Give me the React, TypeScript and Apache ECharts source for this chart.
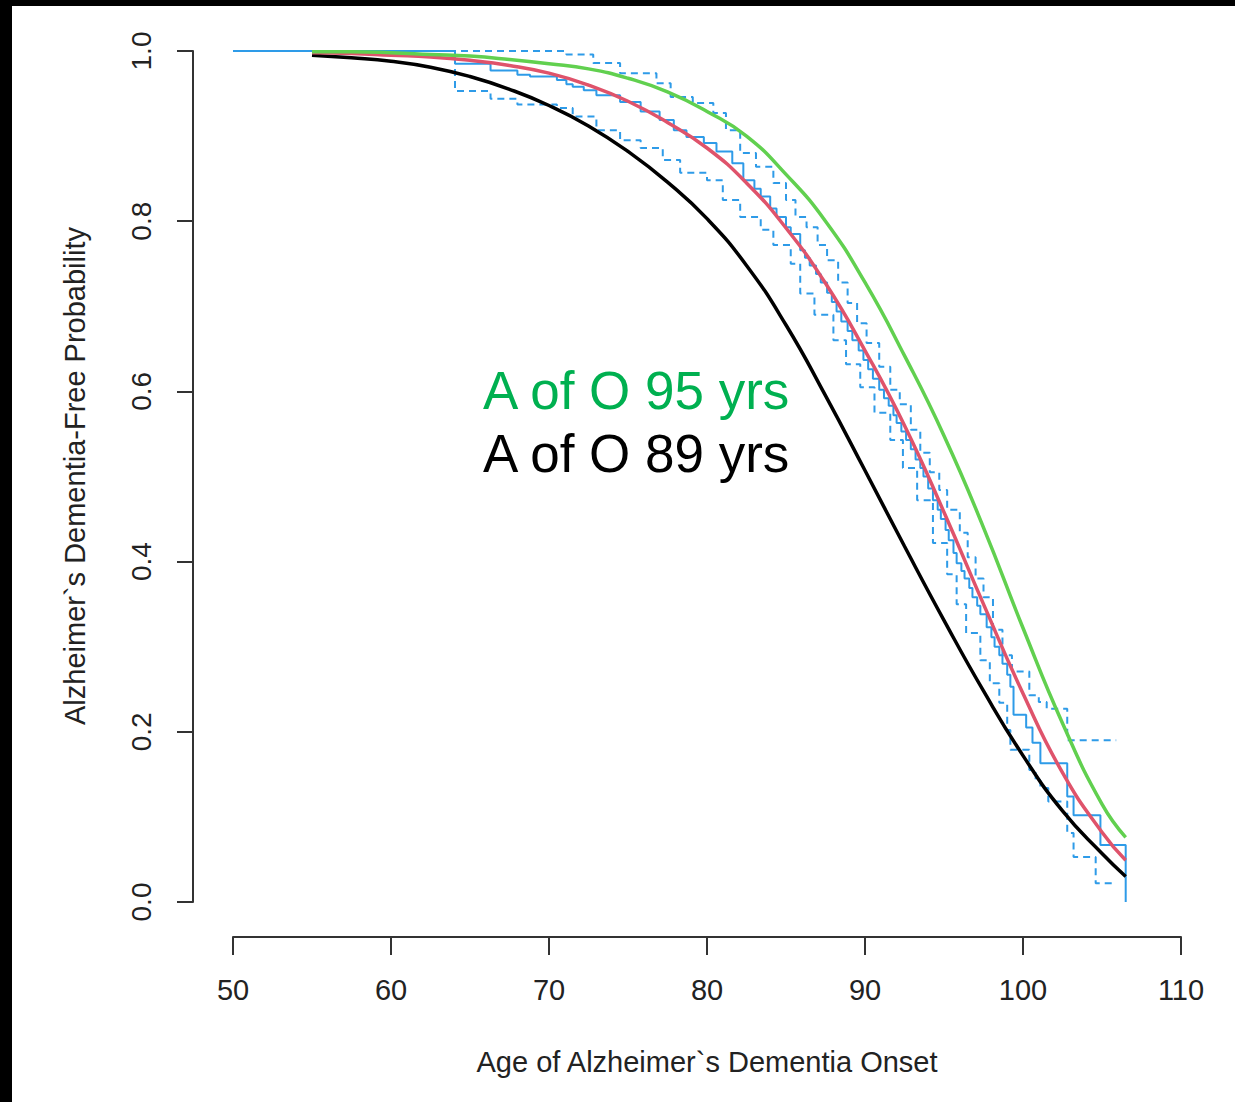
import React, { useEffect, useRef } from "react";
import * as echarts from "echarts";

// Kaplan-Meier estimate (step function): [age, survival]
const kmAges = [50, 64.05, 66.3, 68.0, 68.8, 70.5, 71.1, 71.5, 72.2, 73.0, 74.5, 75.8, 77.0, 77.9, 78.7, 79.8, 80.6, 81.6, 82.3, 83.0, 83.4, 84.0, 84.4, 85.0, 85.3, 85.9, 86.2, 86.5, 86.9, 87.2, 87.6, 87.9, 88.2, 88.5, 88.9, 89.2, 89.6, 89.9, 90.2, 90.5, 90.9, 91.2, 91.5, 91.8, 92.0, 92.3, 92.6, 92.9, 93.2, 93.5, 93.7, 94.0, 94.3, 94.6, 94.8, 95.1, 95.3, 95.6, 95.8, 96.1, 96.3, 96.6, 96.8, 97.1, 97.3, 97.7, 98.0, 98.2, 98.5, 98.7, 99.0, 99.2, 99.4, 100.2, 100.6, 101.1, 102.8, 103.2, 104.9, 106.5];
const kmVals = [1.0, 0.985, 0.977, 0.972, 0.97, 0.966, 0.961, 0.958, 0.954, 0.948, 0.94, 0.929, 0.919, 0.907, 0.899, 0.892, 0.882, 0.868, 0.848, 0.838, 0.829, 0.815, 0.805, 0.793, 0.785, 0.766, 0.757, 0.748, 0.738, 0.728, 0.716, 0.705, 0.694, 0.682, 0.671, 0.66, 0.648, 0.637, 0.626, 0.615, 0.602, 0.592, 0.583, 0.572, 0.563, 0.553, 0.543, 0.532, 0.52, 0.51, 0.5, 0.486, 0.472, 0.461, 0.45, 0.437, 0.425, 0.41, 0.398, 0.389, 0.38, 0.369, 0.358, 0.348, 0.338, 0.323, 0.311, 0.3, 0.29, 0.28, 0.267, 0.253, 0.22, 0.205, 0.187, 0.163, 0.124, 0.102, 0.067, 0.0];

// Upper confidence band (step)
const upAges = [50, 71.1, 72.8, 74.5, 76.8, 77.7, 79.1, 80.4, 81.2, 82.1, 83.1, 84.2, 85.0, 85.6, 86.3, 87.0, 87.6, 88.3, 88.9, 89.5, 90.1, 90.9, 91.6, 92.2, 92.9, 93.5, 94.1, 94.7, 95.2, 96.0, 96.5, 97.0, 97.5, 98.1, 98.7, 99.3, 100.4, 101.0, 101.5, 102.8, 105.9];
const upVals = [1.0, 0.996, 0.986, 0.974, 0.962, 0.946, 0.939, 0.927, 0.907, 0.88, 0.864, 0.845, 0.825, 0.805, 0.793, 0.772, 0.754, 0.728, 0.704, 0.68, 0.657, 0.629, 0.602, 0.585, 0.555, 0.528, 0.505, 0.484, 0.461, 0.434, 0.405, 0.38, 0.358, 0.32, 0.29, 0.271, 0.243, 0.235, 0.227, 0.19, 0.19];

// Lower confidence band (step)
const loAges = [50, 64.05, 66.3, 68.0, 70.5, 71.5, 73.0, 74.5, 75.8, 77.2, 78.3, 80.0, 81.0, 82.1, 83.4, 84.2, 85.3, 85.9, 86.8, 88.0, 88.8, 89.7, 90.6, 91.6, 92.4, 93.3, 94.3, 95.2, 95.8, 96.4, 97.3, 97.9, 98.5, 99.0, 99.2, 100.4, 100.8, 101.1, 101.6, 102.8, 103.2, 104.6, 105.9];
const loVals = [1.0, 0.953, 0.944, 0.937, 0.933, 0.923, 0.907, 0.895, 0.886, 0.872, 0.857, 0.848, 0.825, 0.805, 0.79, 0.772, 0.75, 0.715, 0.69, 0.66, 0.632, 0.605, 0.575, 0.543, 0.51, 0.472, 0.422, 0.385, 0.35, 0.316, 0.284, 0.257, 0.234, 0.202, 0.179, 0.155, 0.143, 0.134, 0.118, 0.081, 0.053, 0.022, 0.022];

// Smooth curves read at ages every 2.5 years
const curveAges = [55, 57.5, 60, 62.5, 65, 67.5, 70, 72.5, 75, 77.5, 80, 82.5, 85, 87.5, 90, 92.5, 95, 97.5, 100, 102.5, 105, 106.5];
// Fitted curve (red)
const redVals = [0.998, 0.997, 0.995, 0.993, 0.989, 0.983, 0.974, 0.96, 0.941, 0.916, 0.886, 0.845, 0.792, 0.727, 0.648, 0.56, 0.458, 0.35, 0.245, 0.152, 0.082, 0.049];
// A of O 95 yrs (green)
const greenVals = [0.999, 0.999, 0.998, 0.996, 0.994, 0.99, 0.985, 0.979, 0.968, 0.952, 0.929, 0.9, 0.855, 0.8, 0.728, 0.642, 0.548, 0.44, 0.322, 0.21, 0.115, 0.076];
// A of O 89 yrs (black)
const blackVals = [0.995, 0.992, 0.988, 0.981, 0.97, 0.955, 0.936, 0.912, 0.882, 0.846, 0.803, 0.748, 0.678, 0.595, 0.507, 0.418, 0.331, 0.248, 0.172, 0.107, 0.057, 0.03];

const xTicks = [50, 60, 70, 80, 90, 100, 110];
const yTicks = [0, 0.2, 0.4, 0.6, 0.8, 1.0];

const FONT = "'Liberation Sans', Arial, Helvetica, sans-serif";

const zip = (a: number[], b: number[]) => a.map((v, i) => [v, b[i]]);

export default function App() {
  const ref = useRef<HTMLDivElement>(null);
  useEffect(() => {
    if (!ref.current) return;
    const chart = echarts.init(ref.current, undefined, { renderer: "svg" });
    const blue = "#2e9be8";
    const curve = (vals: number[], color: string, z: number) => ({
      type: "line",
      data: zip(curveAges, vals),
      smooth: 0.5,
      showSymbol: false,
      lineStyle: { color, width: 3.5 },
      z,
    });
    chart.setOption({
      animation: false,
      backgroundColor: "#ffffff",
      grid: { left: 233, top: 51, width: 948, height: 851, containLabel: false },
      xAxis: {
        type: "value",
        min: xTicks[0],
        max: xTicks[xTicks.length - 1],
        interval: 10,
        offset: 35,
        splitLine: { show: false },
        axisLine: { show: true, onZero: false, lineStyle: { color: "#333", width: 2 } },
        axisTick: { show: true, length: 18, lineStyle: { color: "#333", width: 2 } },
        axisLabel: { fontSize: 29, color: "#222", fontFamily: FONT, margin: 38 },
      },
      yAxis: {
        type: "value",
        min: yTicks[0],
        max: yTicks[yTicks.length - 1],
        interval: 0.2,
        offset: 40,
        splitLine: { show: false },
        axisLine: { show: true, onZero: false, lineStyle: { color: "#333", width: 2 } },
        axisTick: { show: true, length: 16, lineStyle: { color: "#333", width: 2 } },
        axisLabel: {
          fontSize: 28,
          color: "#222",
          fontFamily: FONT,
          rotate: 90,
          margin: 38,
          formatter: (v: number) => v.toFixed(1),
        },
      },
      series: [
        {
          type: "line",
          data: zip(upAges, upVals),
          step: "end",
          showSymbol: false,
          lineStyle: { color: blue, width: 2, type: [7, 5] },
          z: 1,
        },
        {
          type: "line",
          data: zip(loAges, loVals),
          step: "end",
          showSymbol: false,
          lineStyle: { color: blue, width: 2, type: [7, 5] },
          z: 1,
        },
        {
          type: "line",
          data: zip(kmAges, kmVals),
          step: "end",
          showSymbol: false,
          lineStyle: { color: blue, width: 2 },
          z: 2,
        },
        curve(blackVals, "#000000", 3),
        curve(redVals, "#df536b", 4),
        curve(greenVals, "#61d04f", 5),
      ],
      graphic: [
        { type: "rect", left: 0, top: 0, shape: { width: 1235, height: 6 }, style: { fill: "#000" }, z: 100 },
        { type: "rect", left: 0, top: 0, shape: { width: 12, height: 1102 }, style: { fill: "#000" }, z: 100 },
        {
          type: "text",
          x: 75,
          y: 476,
          rotation: Math.PI / 2,
          style: {
            text: "Alzheimer`s Dementia-Free Probability",
            fontSize: 29,
            fontFamily: FONT,
            fill: "#222",
            align: "center",
            verticalAlign: "middle",
          },
        },
        {
          type: "text",
          x: 707,
          y: 1062,
          style: {
            text: "Age of Alzheimer`s Dementia Onset",
            fontSize: 29,
            fontFamily: FONT,
            fill: "#222",
            align: "center",
            verticalAlign: "middle",
          },
        },
        {
          type: "text",
          x: 483,
          y: 390,
          style: {
            text: "A of O 95 yrs",
            fontSize: 53,
            fontFamily: FONT,
            fill: "#00b050",
            align: "left",
            verticalAlign: "middle",
          },
        },
        {
          type: "text",
          x: 483,
          y: 453,
          style: {
            text: "A of O 89 yrs",
            fontSize: 53,
            fontFamily: FONT,
            fill: "#000000",
            align: "left",
            verticalAlign: "middle",
          },
        },
      ],
    });
    return () => chart.dispose();
  }, []);
  return (
    <div
      ref={ref}
      style={{ position: "absolute", left: 0, top: 0, width: 1235, height: 1102, background: "#fff" }}
    />
  );
}
